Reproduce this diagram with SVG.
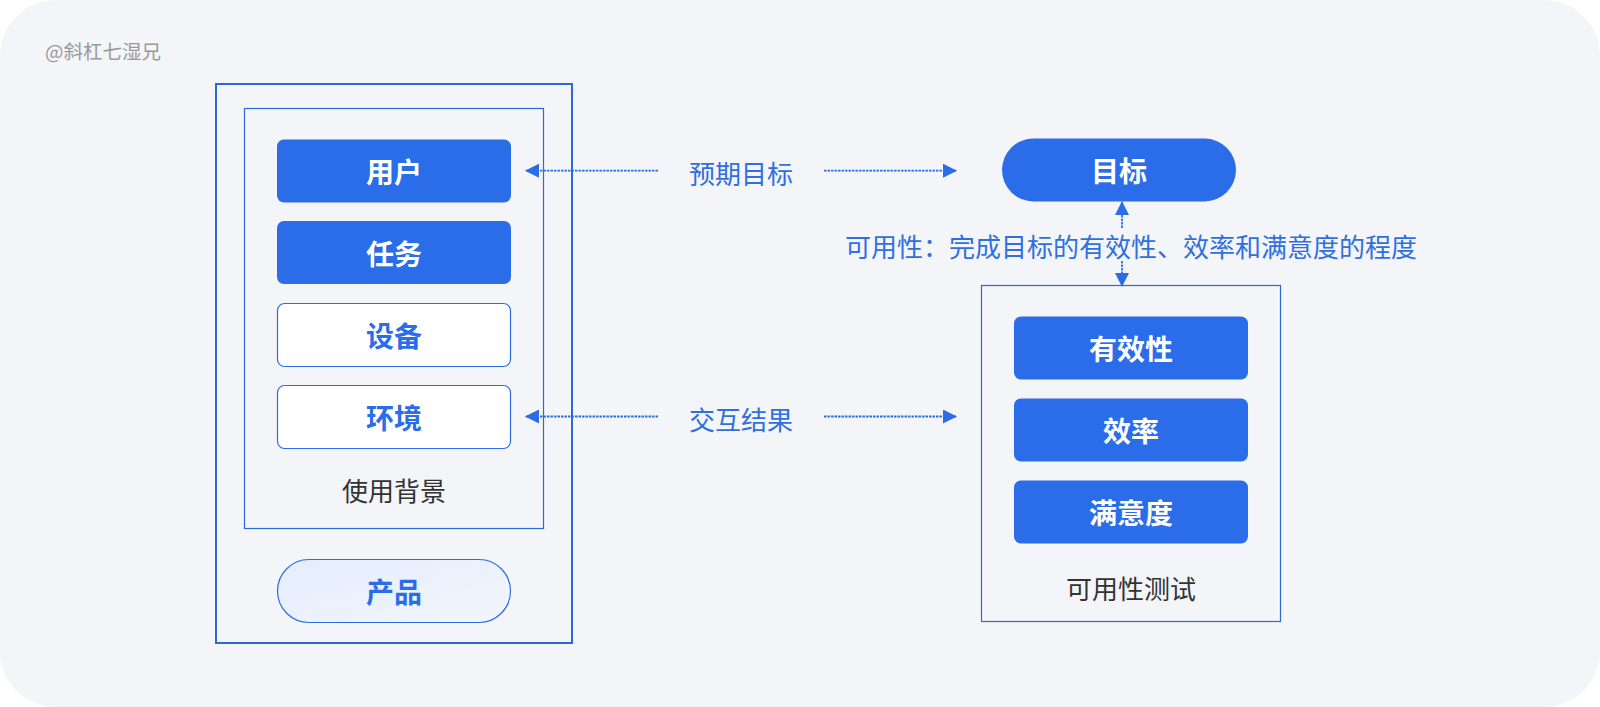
<svg xmlns="http://www.w3.org/2000/svg" width="1600" height="707" viewBox="0 0 1600 707">
<defs>
<style>
.t{font-family:"Noto Sans CJK SC","Noto Sans",sans-serif;dominant-baseline:central;text-anchor:middle}
.lb{font-size:28px;font-weight:700}
.fill{fill:#2b6de8}
.w{fill:#ffffff}
.bt{fill:#2b6de8}
.lt{fill:#2f6fe0;font-size:26px}
.dk{fill:#333333;font-size:26px}
.cn{stroke:#2b6de8;stroke-width:1.8;stroke-dasharray:2.5 1;fill:none}
</style>
<linearGradient id="pg" x1="0" y1="0" x2="1" y2="1">
<stop offset="0" stop-color="#e3edfd"/>
<stop offset="1" stop-color="#f3f6fb"/>
</linearGradient>
<marker id="ah" viewBox="0 0 14 14" refX="13" refY="7" markerWidth="14" markerHeight="14" markerUnits="userSpaceOnUse" orient="auto-start-reverse">
<path d="M0,0 L14,7 L0,14 Z" fill="#2b6de8"/>
</marker>
</defs>
<rect x="0" y="0" width="1600" height="707" fill="#ffffff"/>
<rect x="0" y="0" width="1600" height="707" rx="56" ry="56" fill="#f4f5f8"/>
<text x="45" y="50" font-family="'Noto Sans CJK SC',sans-serif" font-size="19.5" fill="#9a9a9a" dominant-baseline="central">@斜杠七湿兄</text>

<g id="context">
<rect x="216" y="84" width="356" height="559" fill="none" stroke="#2b6ad6" stroke-width="2"/>
<rect x="244.5" y="108.5" width="299" height="420" fill="none" stroke="#2b6ad6" stroke-width="1.2"/>
<text class="t dk" x="394" y="489">使用背景</text>
</g>
<g id="user">
<rect x="277" y="139.5" width="234" height="63" rx="7" class="fill"/>
<text class="t lb w" x="394" y="171">用户</text>
</g>
<g id="task">
<rect x="277" y="221" width="234" height="63" rx="7" class="fill"/>
<text class="t lb w" x="394" y="252.5">任务</text>
</g>
<g id="device">
<rect x="277.5" y="303.5" width="233" height="63" rx="7" fill="#ffffff" stroke="#2b6de8" stroke-width="1.2"/>
<text class="t lb bt" x="394" y="335">设备</text>
</g>
<g id="env">
<rect x="277.5" y="385.5" width="233" height="63" rx="7" fill="#ffffff" stroke="#2b6de8" stroke-width="1.2"/>
<text class="t lb bt" x="394" y="417">环境</text>
</g>
<g id="product">
<rect x="277.5" y="559.5" width="233" height="63" rx="31.5" fill="url(#pg)" stroke="#2b6de8" stroke-width="1.2"/>
<text class="t lb bt" x="394" y="591">产品</text>
</g>

<g id="goal">
<rect x="1002" y="138.5" width="234" height="63" rx="31.5" class="fill"/>
<text class="t lb w" x="1119" y="170">目标</text>
</g>
<g id="usability-test">
<rect x="981.5" y="285.5" width="299" height="336" fill="none" stroke="#2b6ad6" stroke-width="1.2"/>
<text class="t dk" x="1131" y="587">可用性测试</text>
</g>
<g id="effectiveness">
<rect x="1014" y="316.5" width="234" height="63" rx="7" class="fill"/>
<text class="t lb w" x="1131" y="348">有效性</text>
</g>
<g id="efficiency">
<rect x="1014" y="398.5" width="234" height="63" rx="7" class="fill"/>
<text class="t lb w" x="1131" y="430">效率</text>
</g>
<g id="satisfaction">
<rect x="1014" y="480.5" width="234" height="63" rx="7" class="fill"/>
<text class="t lb w" x="1131" y="512">满意度</text>
</g>

<g id="connectors">
<line class="cn" x1="658" y1="170.7" x2="526" y2="170.7" marker-end="url(#ah)"/>
<line class="cn" x1="824" y1="170.7" x2="956" y2="170.7" marker-end="url(#ah)"/>
<text class="t lt" x="741" y="172">预期目标</text>
<line class="cn" x1="658" y1="416.5" x2="526" y2="416.5" marker-end="url(#ah)"/>
<line class="cn" x1="824" y1="416.5" x2="956" y2="416.5" marker-end="url(#ah)"/>
<text class="t lt" x="741" y="418">交互结果</text>
<line class="cn" x1="1122" y1="228" x2="1122" y2="202" marker-end="url(#ah)"/>
<line class="cn" x1="1122" y1="261" x2="1122" y2="286" marker-end="url(#ah)"/>
<text class="t lt" x="1131" y="245">可用性：完成目标的有效性、效率和满意度的程度</text>
</g>
</svg>
